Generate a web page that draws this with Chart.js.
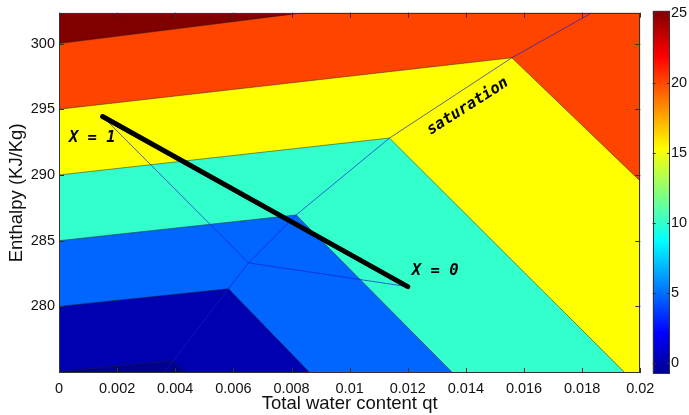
<!DOCTYPE html>
<html>
<head>
<meta charset="utf-8">
<script src="https://cdn.jsdelivr.net/npm/chart.js@4.4.0/dist/chart.umd.min.js"></script>
<style>
  html, body { margin: 0; padding: 0; background: #fff; }
  #wrap { position: relative; width: 689px; height: 415px; }
  #wrap canvas { position: absolute; left: 0; top: 0; }
</style>
</head>
<body>
<div id="wrap">
  <canvas id="main" width="689" height="415"></canvas>
  <canvas id="cbar" width="689" height="415"></canvas>
</div>
<script>
// Enthalpy vs total water content — filled contours (jet), saturation curve, mixing line

// axes
const xRange = [0, 0.02];
const yRange = [274.93, 302.35];
const cbRange = [-0.75, 25.2];
const xTicks = [0, 0.002, 0.004, 0.006, 0.008, 0.01, 0.012, 0.014, 0.016, 0.018, 0.02];
const xTickLabels = ['0', '0.002', '0.004', '0.006', '0.008', '0.01', '0.012', '0.014', '0.016', '0.018', '0.02'];
const yTicks = [280, 285, 290, 295, 300];
const cbTicks = [0, 5, 10, 15, 20, 25];

// contour boundaries [qt, h]; everything above each boundary takes the next colour
const floorEdge  = [[0, 274.93], [0.02, 274.93]];
const contour1   = [[0, 275.03], [0.00393, 275.86], [0.00437, 274.93], [0.02, 274.93]];
const contour2   = [[0, 280.0], [0.00583, 281.34], [0.00864, 274.93], [0.02, 274.93]];
const contour3   = [[0, 285.0], [0.00816, 286.96], [0.01355, 274.93], [0.02, 274.93]];
const contour4   = [[0, 290.0], [0.01137, 292.81], [0.01948, 274.93], [0.02, 274.93]];
const contour5   = [[0, 295.0], [0.01558, 298.92], [0.02, 289.53]];
const contour6   = [[0, 300.0], [0.00845, 302.35], [0.02, 302.35]];

const saturation = [[0.0036, 274.93], [0.00393, 275.86], [0.00583, 281.34], [0.00652, 283.31],
                    [0.00816, 286.96], [0.01137, 292.81], [0.01558, 298.92], [0.01834, 302.35]];
const mixTriangle = [[0.0015, 294.45], [0.00652, 283.31], [0.012, 281.5]];
const mixLine     = [[0.0015, 294.45], [0.012, 281.5]];

const labelTexts  = ['X = 1', 'X = 0', 'saturation'];
const labelAnchor = [[0.00034, 292.79], [0.01214, 282.72], [0.01406, 295.21]];

// styles
const bandColors = ['#00008F', '#0000B0', '#0066FF', '#33FFCC', '#FFFF00', '#FF4400', '#800000'];
const jetStops = [[0, '#000090'], [0.111, '#0000FF'], [0.365, '#00FFFF'], [0.619, '#FFFF00'], [0.873, '#FF0000'], [1, '#800000']];
const FONT = 'Arial, "Liberation Sans", Helvetica, sans-serif';

const toXY = pts => pts.map(([x, y]) => ({ x, y }));

const bands = [floorEdge, contour1, contour2, contour3, contour4, contour5, contour6];
const datasets = bands.map((pts, i) => ({
    data: toXY(pts),
    fill: 'end',
    backgroundColor: bandColors[i],
    borderColor: i === 0 ? 'rgba(0,0,0,0)' : 'rgba(30,30,30,0.7)',
    borderWidth: 0.7,
    pointRadius: 0,
    tension: 0,
    order: 20 - i
}));
datasets.push(
    { data: toXY(saturation), fill: false, borderColor: 'rgba(20,30,210,0.85)', borderWidth: 0.8, pointRadius: 0, order: 3 },
    { data: toXY(mixTriangle), fill: false, borderColor: 'rgba(20,30,210,0.85)', borderWidth: 0.8, pointRadius: 0, order: 2 },
    { data: toXY(mixLine), fill: false, borderColor: '#000', borderWidth: 5, borderCapStyle: 'round', pointRadius: 0, order: 1 }
);

// MATLAB style box with inward ticks
function boxTicks(xs, ys, len) {
    return {
        id: 'boxTicks',
        afterDraw(chart) {
            const { ctx, chartArea: a, scales } = chart;
            ctx.save();
            ctx.strokeStyle = '#333';
            ctx.lineWidth = 1;
            ctx.beginPath();
            if (xs) {
                scales[xs].ticks.forEach(t => {
                    const p = Math.round(scales[xs].getPixelForValue(t.value)) + 0.5;
                    ctx.moveTo(p, a.bottom); ctx.lineTo(p, a.bottom - len);
                    ctx.moveTo(p, a.top); ctx.lineTo(p, a.top + len);
                });
            }
            scales[ys].ticks.forEach(t => {
                const p = Math.round(scales[ys].getPixelForValue(t.value)) + 0.5;
                ctx.moveTo(a.left, p); ctx.lineTo(a.left + len, p);
                ctx.moveTo(a.right, p); ctx.lineTo(a.right - len, p);
            });
            ctx.stroke();
            ctx.strokeRect(Math.round(a.left) + 0.5, Math.round(a.top) + 0.5,
                Math.round(a.right - a.left) - 1, Math.round(a.bottom - a.top) - 1);
            ctx.restore();
        }
    };
}

const textLabels = {
    id: 'textLabels',
    afterDatasetsDraw(chart) {
        const { ctx, scales: { x, y } } = chart;
        ctx.save();
        ctx.fillStyle = '#000';
        ctx.font = 'bold italic 15.5px "DejaVu Sans Mono", monospace';
        ctx.textBaseline = 'middle';
        labelTexts.forEach((txt, i) => {
            const px = x.getPixelForValue(labelAnchor[i][0]);
            const py = y.getPixelForValue(labelAnchor[i][1]);
            ctx.save();
            ctx.translate(px, py);
            if (txt === 'saturation') {
                ctx.rotate(-32.5 * Math.PI / 180);
                ctx.textAlign = 'center';
            } else {
                ctx.textAlign = 'left';
            }
            ctx.fillText(txt, 0, 0);
            ctx.restore();
        });
        ctx.restore();
    }
};

new Chart(document.getElementById('main'), {
    type: 'line',
    data: { datasets },
    options: {
        responsive: false,
        animation: false,
        layout: { padding: { left: 0, right: 48.7, top: 10.7, bottom: 0 } },
        plugins: { legend: { display: false }, tooltip: { enabled: false } },
        scales: {
            x: {
                type: 'linear',
                min: xRange[0], max: xRange[1],
                afterBuildTicks: s => { s.ticks = xTicks.map(v => ({ value: v })); },
                afterFit: s => { s.height = 42; },
                grid: { display: false, drawTicks: false },
                border: { display: false },
                ticks: {
                    autoSkip: false, maxRotation: 0, padding: 7, color: '#111',
                    font: { family: FONT, size: 14.5 },
                    callback: v => xTickLabels[xTicks.indexOf(v)]
                },
                title: {
                    display: true, text: 'Total water content qt', color: '#111',
                    font: { family: FONT, size: 18.5 }, padding: { top: 0, bottom: 0 }
                }
            },
            y: {
                type: 'linear',
                min: yRange[0], max: yRange[1],
                afterBuildTicks: s => { s.ticks = yTicks.map(v => ({ value: v })); },
                afterFit: s => { s.width = 59; },
                grid: { display: false, drawTicks: false },
                border: { display: false },
                ticks: { padding: 4, color: '#111', font: { family: FONT, size: 14.5 } },
                title: {
                    display: true, text: 'Enthalpy (KJ/Kg)', color: '#111',
                    font: { family: FONT, size: 18.5 }, padding: { top: 6, bottom: 0 }
                }
            }
        }
    },
    plugins: [textLabels, boxTicks('x', 'y', 5)]
});

// colour bar
new Chart(document.getElementById('cbar'), {
    type: 'bar',
    data: {
        labels: [''],
        datasets: [{
            data: [cbRange],
            barPercentage: 1,
            categoryPercentage: 1,
            borderWidth: 0,
            backgroundColor: c => {
                const a = c.chart.chartArea;
                if (!a) return '#888';
                const g = c.chart.ctx.createLinearGradient(0, a.bottom, 0, a.top);
                jetStops.forEach(([t, col]) => g.addColorStop(t, col));
                return g;
            }
        }]
    },
    options: {
        responsive: false,
        animation: false,
        layout: { padding: { left: 652.7, right: 0, top: 10.7, bottom: 41.7 } },
        plugins: { legend: { display: false }, tooltip: { enabled: false } },
        scales: {
            x: { display: false },
            y: {
                position: 'right',
                min: cbRange[0], max: cbRange[1],
                afterBuildTicks: s => { s.ticks = cbTicks.map(v => ({ value: v })); },
                afterFit: s => { s.width = 19; },
                grid: { display: false, drawTicks: false },
                border: { display: false },
                ticks: { padding: 1, color: '#111', font: { family: FONT, size: 14.5 } }
            }
        }
    },
    plugins: [boxTicks(null, 'y', 3)]
});
</script>
</body>
</html>
